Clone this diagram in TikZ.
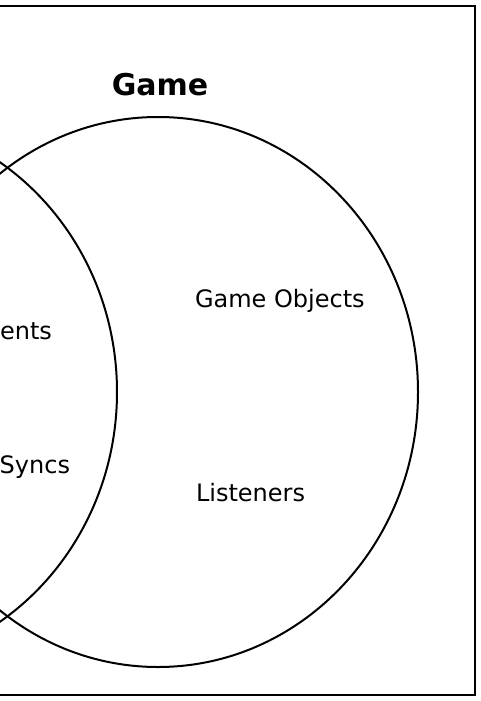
\documentclass[tikz,border=0pt]{standalone}
\usepackage{fontspec}
\setmainfont{DejaVu Sans}
\usetikzlibrary{positioning}

\begin{document}
\begin{tikzpicture}[
    x=1pt, y=-1pt,
    line width=2pt,
    font=\fontsize{24}{28}\selectfont,
    setname/.style={
      font=\fontsize{30}{34}\selectfont\bfseries,
      inner sep=0pt, anchor=base
    },
    member/.style={
      inner sep=0pt, anchor=base west
    },
    cutmember/.style={
      inner sep=0pt, anchor=base east
    }
  ]
  \clip (0,0) rectangle (481,701);
  % Rahmen
  \draw[line width=1.8pt] (-200,6) rectangle (475,695);
  % Mengen
  \draw (158,392) ellipse [x radius=260, y radius=275];
  \draw (-143,392) ellipse [x radius=260, y radius=275];
  % Titel
  \node[setname] (game) at (160,95) {Game};
  % Inhalt der Menge Game
  \node[member] (gameobj) at (194,307) {Game Objects};
  \node[member] (listen) at (195,501.5) {Listeners};
  % abgeschnittene Texte links
  \node[cutmember] (events) at (53,339) {ents};
  \node[cutmember] (syncs) at (71,473) {Syncs};
\end{tikzpicture}
\end{document}
